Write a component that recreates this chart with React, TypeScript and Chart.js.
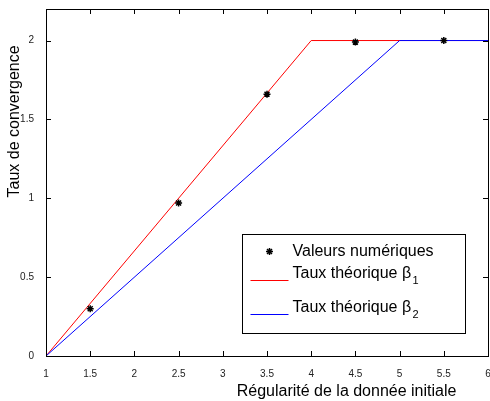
import React, { useEffect, useRef } from 'react';
import { Chart, registerables } from 'chart.js';

Chart.register(...registerables);

// Numerical convergence rates measured for each initial regularity
const numericX = [1.5, 2.5, 3.5, 4.5, 5.5];
const numericY = [0.30, 0.97, 1.66, 1.99, 2.0];

// Theoretical rates beta_1 and beta_2 (piecewise linear, saturating at 2)
const beta1X = [1, 4, 6];
const beta1Y = [0, 2, 2];
const beta2X = [1, 5, 6];
const beta2Y = [0, 2, 2];

const xTicks = [1, 1.5, 2, 2.5, 3, 3.5, 4, 4.5, 5, 5.5, 6];
const yTicks = [0, 0.5, 1, 1.5, 2];

const xTitle = 'Régularité de la donnée initiale';
const yTitle = 'Taux de convergence';
const legendLabels = ['Valeurs numériques', 'Taux théorique β', 'Taux théorique β'];
const legendSubs = ['', '1', '2'];

const FONT = '"Liberation Sans", Arial, Helvetica, sans-serif';

const toPoints = (xs: number[], ys: number[]) => xs.map((x, i) => ({ x, y: ys[i] }));

// Box frame, inward tick marks, axis titles and the legend box
const framePlugin = {
  id: 'matlabFrame',
  afterDraw(chart: any) {
    const { ctx, chartArea: a, scales } = chart;
    const xs = scales.x;
    const ys = scales.y;
    const tick = 5;
    ctx.save();
    ctx.strokeStyle = '#000';
    ctx.lineWidth = 1;
    ctx.strokeRect(a.left + 0.5, a.top + 0.5, a.right - a.left, a.bottom - a.top);

    ctx.beginPath();
    xTicks.forEach((v) => {
      const px = Math.round(xs.getPixelForValue(v)) + 0.5;
      ctx.moveTo(px, a.bottom);
      ctx.lineTo(px, a.bottom - tick);
      ctx.moveTo(px, a.top);
      ctx.lineTo(px, a.top + tick);
    });
    yTicks.forEach((v) => {
      const py = Math.round(ys.getPixelForValue(v)) + 0.5;
      ctx.moveTo(a.left, py);
      ctx.lineTo(a.left + tick, py);
      ctx.moveTo(a.right, py);
      ctx.lineTo(a.right - tick, py);
    });
    ctx.stroke();

    // Axis titles
    ctx.fillStyle = '#000';
    ctx.font = `16px ${FONT}`;
    ctx.textAlign = 'center';
    ctx.textBaseline = 'alphabetic';
    const w = a.right - a.left;
    const h = a.bottom - a.top;
    ctx.fillText(xTitle, a.left + 0.68 * w, a.bottom + 40);
    ctx.save();
    ctx.translate(a.left - 27, a.top + 0.324 * h);
    ctx.rotate(-Math.PI / 2);
    ctx.fillText(yTitle, 0, 0);
    ctx.restore();

    // Legend
    const bx = a.right - 245.5;
    const by = a.bottom - 121.5;
    const bw = 223;
    const bh = 99;
    ctx.fillStyle = '#fff';
    ctx.fillRect(bx, by, bw, bh);
    ctx.strokeStyle = '#000';
    ctx.strokeRect(bx, by, bw, bh);

    const ds = chart.data.datasets;
    const rowBase = [21.5, 43.5, 77.5];
    const lineY = [0, 45, 79];
    const textX = bx + 50;
    for (let i = 0; i < 3; i++) {
      const d = ds[i];
      if (i === 0) {
        const cx = bx + 27;
        const cy = by + 17;
        const r = 3.5;
        ctx.strokeStyle = d.borderColor;
        ctx.lineWidth = 1.5;
        ctx.beginPath();
        ctx.moveTo(cx - r, cy); ctx.lineTo(cx + r, cy);
        ctx.moveTo(cx, cy - r); ctx.lineTo(cx, cy + r);
        const q = r * Math.SQRT1_2;
        ctx.moveTo(cx - q, cy - q); ctx.lineTo(cx + q, cy + q);
        ctx.moveTo(cx - q, cy + q); ctx.lineTo(cx + q, cy - q);
        ctx.stroke();
      } else {
        ctx.strokeStyle = d.borderColor;
        ctx.lineWidth = 1;
        ctx.beginPath();
        ctx.moveTo(bx + 8, Math.round(by + lineY[i]) + 0.5);
        ctx.lineTo(bx + 46, Math.round(by + lineY[i]) + 0.5);
        ctx.stroke();
      }
      ctx.fillStyle = '#000';
      ctx.textAlign = 'left';
      ctx.font = `16px ${FONT}`;
      const label = legendLabels[i];
      ctx.fillText(label, textX, by + rowBase[i]);
      if (legendSubs[i]) {
        const lw = ctx.measureText(label).width;
        ctx.font = `11px ${FONT}`;
        ctx.fillText(legendSubs[i], textX + lw + 1.5, by + rowBase[i] + 6);
      }
    }
    ctx.restore();
  },
};

export default function App() {
  const canvasRef = useRef<HTMLCanvasElement | null>(null);

  useEffect(() => {
    const canvas = canvasRef.current;
    if (!canvas) return;
    const chart = new Chart(canvas, {
      type: 'line',
      data: {
        datasets: [
          {
            label: legendLabels[0],
            data: toPoints(numericX, numericY),
            showLine: false,
            pointStyle: 'star',
            pointRadius: 3.5,
            pointBorderWidth: 1.5,
            borderColor: '#000',
            pointBorderColor: '#000',
            backgroundColor: '#000',
            order: 0,
          },
          {
            label: legendLabels[1] + legendSubs[1],
            data: toPoints(beta1X, beta1Y),
            borderColor: '#ff0000',
            borderWidth: 1,
            pointRadius: 0,
            tension: 0,
            fill: false,
            order: 2,
          },
          {
            label: legendLabels[2] + legendSubs[2],
            data: toPoints(beta2X, beta2Y),
            borderColor: '#0000ff',
            borderWidth: 1,
            pointRadius: 0,
            tension: 0,
            fill: false,
            order: 1,
          },
        ],
      },
      options: {
        animation: false,
        responsive: false,
        maintainAspectRatio: false,
        events: [],
        layout: { autoPadding: false, padding: { top: 9, right: 2, bottom: 0, left: 0 } },
        plugins: {
          legend: { display: false },
          tooltip: { enabled: false },
        },
        scales: {
          x: {
            type: 'linear',
            min: 1,
            max: 6,
            grid: { display: false },
            border: { display: false },
            ticks: {
              padding: 4,
              maxRotation: 0,
              autoSkip: false,
              color: '#222',
              font: { family: FONT, size: 10 },
              callback: (v: any) => String(v),
            },
            afterBuildTicks: (s: any) => {
              s.ticks = xTicks.map((value) => ({ value }));
            },
            afterFit: (s: any) => {
              s.height = 45;
              s.paddingLeft = 0;
              s.paddingRight = 0;
            },
          },
          y: {
            type: 'linear',
            min: 0,
            max: 2.2,
            grid: { display: false },
            border: { display: false },
            ticks: {
              padding: 4,
              autoSkip: false,
              color: '#222',
              font: { family: FONT, size: 10 },
              callback: (v: any) => String(v),
            },
            afterBuildTicks: (s: any) => {
              s.ticks = yTicks.map((value) => ({ value }));
            },
            afterFit: (s: any) => {
              s.width = 46;
              s.paddingTop = 0;
              s.paddingBottom = 0;
            },
          },
        },
      },
      plugins: [framePlugin],
    });
    return () => chart.destroy();
  }, []);

  return (
    <div style={{ position: 'absolute', left: 0, top: 0, width: 490, height: 401, background: '#fff' }}>
      <canvas ref={canvasRef} width={490} height={401} style={{ display: 'block' }} />
    </div>
  );
}
